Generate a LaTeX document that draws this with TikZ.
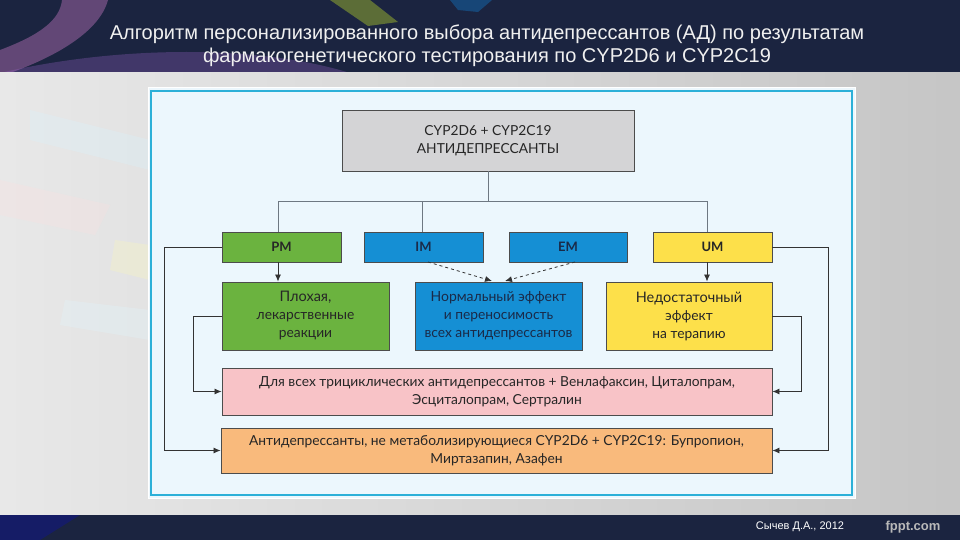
\documentclass[tikz,border=0pt]{standalone}
\usepackage{fontspec}
\setmainfont{Lato}
\newfontfamily\titlefont{Liberation Sans}
\newfontfamily\footfont{Liberation Sans}
\usetikzlibrary{arrows.meta}
\definecolor{navy}{HTML}{1B2440}
\definecolor{panelblue}{HTML}{2CB0D8}
\definecolor{panelfill}{HTML}{ECF7FD}
\definecolor{topgray}{HTML}{D4D4D6}
\definecolor{pmgreen}{HTML}{6BB33F}
\definecolor{imblue}{HTML}{158FD4}
\definecolor{umyellow}{HTML}{FDE04A}
\definecolor{pinkbox}{HTML}{F8C3C7}
\definecolor{orangebox}{HTML}{F9BA7C}
\definecolor{linegray}{HTML}{6E7882}
\definecolor{textdark}{HTML}{262626}
\definecolor{bluetext}{HTML}{1A2A48}
\tikzset{
  box/.style={draw=black!70, line width=0.9pt, align=center, inner sep=0pt,
    font=\fontsize{13.8}{18}\selectfont, text=textdark},
  lab/.style={box, minimum height=30pt, font=\fontsize{13}{15}\selectfont\bfseries},
  conn/.style={draw=linegray, line width=0.8pt},
  sidel/.style={draw=black!80, line width=0.8pt, -{Latex[length=7pt,width=6pt]}},
  downarr/.style={draw=black!80, line width=0.8pt, -{Latex[length=7pt,width=6pt]}},
  dasharr/.style={draw=black!80, line width=0.8pt, dashed, -{Latex[length=7pt,width=6pt]}},
  titletext/.style={text=white!94!black, font=\titlefont\fontsize{20}{23}\selectfont, align=center},
}
\begin{document}
\begin{tikzpicture}[x=1pt,y=-1pt]
\useasboundingbox (0,0) rectangle (960,540);
% background
\fill[navy] (0,0) rectangle (960,73);
\begin{scope}
\clip (0,0) rectangle (960,73);
\fill[violet!55!white, opacity=0.45] (62,0) -- (108,0) .. controls (100,30) and (60,55) .. (10,73) -- (0,73) -- (0,50) .. controls (40,35) and (60,20) .. (62,0) -- cycle;
\fill[blue!30!violet!60!white, opacity=0.3] (0,73) .. controls (120,45) and (260,45) .. (350,73) -- cycle;
\fill[olive!70!green!80!white, opacity=0.55] (330,0) -- (370,0) -- (398,22) -- (368,26) -- cycle;
\fill[cyan!60!blue, opacity=0.4] (450,0) -- (492,0) -- (478,12) -- (458,10) -- cycle;
\end{scope}
\shade[left color=gray!18, middle color=white, right color=gray!45] (0,73) rectangle (960,515);
\fill[pink!50, opacity=0.25] (0,180) -- (110,205) -- (95,235) -- (0,215) -- cycle;
\fill[cyan!15, opacity=0.3] (30,110) -- (150,140) -- (150,170) -- (30,140) -- cycle;
\fill[yellow!30, opacity=0.25] (115,240) -- (150,245) -- (150,280) -- (110,270) -- cycle;
\fill[cyan!12, opacity=0.3] (65,300) -- (150,310) -- (150,340) -- (60,325) -- cycle;
\fill[navy] (0,515) rectangle (960,540);
\fill[blue!40!navy, opacity=0.5] (0,515) -- (80,515) -- (40,540) -- (0,540) -- cycle;
% title
\node[titletext] (title) at (487,46) {Алгоритм персонализированного выбора антидепрессантов (АД) по результатам\\фармакогенетического тестирования по CYP2D6 и CYP2C19};
% panel
\draw[white, line width=1pt, fill=panelfill] (148,88) rectangle (855,498);
\draw[panelblue, line width=2.4pt] (151,91) rectangle (852,495);
% boxes
\node[box, fill=topgray, minimum width=292pt, minimum height=61pt] (top) at (488,140.5) {CYP2D6 + CYP2C19\\АНТИДЕПРЕССАНТЫ};
\node[lab, fill=pmgreen, minimum width=119pt] (pm) at (281.5,247) {PM};
\node[lab, fill=imblue, minimum width=119pt, text=bluetext] (im) at (423.5,247) {IM};
\node[lab, fill=imblue, minimum width=118pt, text=bluetext] (em) at (568,247) {EM};
\node[lab, fill=umyellow, minimum width=119pt] (um) at (712.5,247) {UM};
\node[box, fill=pmgreen, minimum width=167pt, minimum height=68pt] (poor) at (305.5,316) {{\fontsize{14.5}{18}\selectfont Плохая,}\\лекарственные\\реакции};
\node[box, fill=imblue, minimum width=167pt, minimum height=68pt, text=bluetext] (normal) at (498.5,316) {{\fontsize{14}{18}\selectfont Нормальный эффект}\\и переносимость\\всех антидепрессантов};
\node[box, fill=umyellow, minimum width=166pt, minimum height=68pt] (weak) at (689,316) {{\fontsize{14.5}{18}\selectfont Недостаточный}\\эффект\\на терапию};
\node[box, fill=pinkbox, minimum width=550pt, minimum height=47pt] (tca) at (497,391.5) {Для всех трициклических антидепрессантов + Венлафаксин, Циталопрам,\\Эсциталопрам, Сертралин};
\node[box, fill=orangebox, minimum width=551pt, minimum height=45pt] (other) at (496.5,450.5) {Антидепрессанты, не метаболизирующиеся CYP2D6 + CYP2C19: Бупропион,\\Миртазапин, Азафен};
% hub connectors
\coordinate (hub) at (488,201);
\coordinate (hl) at (278,201);
\coordinate (hm) at (422,201);
\coordinate (hr) at (707,201);
\draw[conn] (top.south) -- (hub);
\draw[conn] (hl) -- (hr);
\draw[conn] (hl) -- (hl |- pm.north);
\draw[conn] (hm) -- (hm |- im.north);
\draw[conn] (hr) -- (hr |- um.north);
% down arrows
\draw[downarr] (hl |- pm.south) -- (hl |- poor.north);
\draw[downarr] (hr |- um.south) -- (hr |- weak.north);
\coordinate (ims) at (428,262);
\coordinate (ems) at (575,262);
\coordinate (imt) at (492,281);
\coordinate (emt) at (505,281);
\draw[dasharr] (ims) -- (imt);
\draw[dasharr] (ems) -- (emt);
% side connectors
\coordinate (xlo) at (164,0);
\coordinate (xli) at (193,0);
\coordinate (xri) at (801,0);
\coordinate (xro) at (828,0);
\draw[sidel] (pm.west) -| (xlo |- other.west) -- (other.west);
\draw[sidel] (poor.west) -| (xli |- tca.west) -- (tca.west);
\draw[sidel] (weak.east) -| (xri |- tca.east) -- (tca.east);
\draw[sidel] (um.east) -| (xro |- other.east) -- (other.east);
% footer
\node[text=white, font=\footfont\fontsize{11}{13}\selectfont] (author) at (800,527) {Сычев Д.А., 2012};
\node[text=gray!55, font=\footfont\bfseries\fontsize{13}{15}\selectfont] (fppt) at (913,527) {fppt.com};
\end{tikzpicture}
\end{document}
